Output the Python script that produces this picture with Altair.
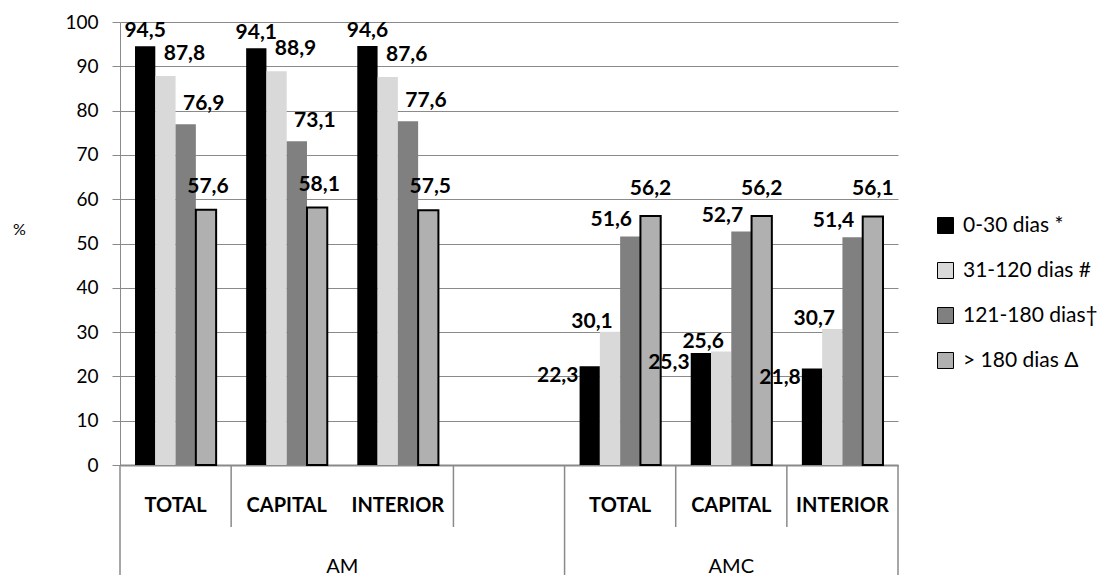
import altair as alt
import pandas as pd

categories = ["AM|TOTAL", "AM|CAPITAL", "AM|INTERIOR", "AM|",
              "AMC|TOTAL", "AMC|CAPITAL", "AMC|INTERIOR"]
series = ["0-30 dias *", "31-120 dias #", "121-180 dias\u2020", "> 180 dias \u0394"]
colors = ["#000000", "#d9d9d9", "#808080", "#b0b0b0"]

v_0_30 = [94.5, 94.1, 94.6, None, 22.3, 25.3, 21.8]
v_31_120 = [87.8, 88.9, 87.6, None, 30.1, 25.6, 30.7]
v_121_180 = [76.9, 73.1, 77.6, None, 51.6, 52.7, 51.4]
v_180 = [57.6, 58.1, 57.5, None, 56.2, 56.2, 56.1]

short_dividers = ["AM|CAPITAL", "AM|", "AMC|CAPITAL", "AMC|INTERIOR"]
long_dividers_left = ["AM|TOTAL", "AMC|TOTAL"]
long_dividers_right = ["AMC|INTERIOR"]

rows = []
for s, vals in zip(series, [v_0_30, v_31_120, v_121_180, v_180]):
    for c, v in zip(categories, vals):
        if v is not None:
            rows.append({"cat": c, "grupo": c.split("|")[0], "serie": s, "v": v})
df = pd.DataFrame(rows)

W, H = 778, 443
FONT = "Lato"

xscale = alt.Scale(domain=categories, paddingInner=0, paddingOuter=0)
color_scale = alt.Scale(domain=series, range=colors)

base = alt.Chart(df)

bars = base.mark_bar(stroke="black").encode(
    x=alt.X("cat:N", scale=xscale, sort=categories,
            axis=alt.Axis(title=None, labelExpr="split(datum.value, '|')[1]",
                          labelAngle=0, ticks=False, domain=True,
                          domainColor="#8a8a8a", domainWidth=2,
                          labelPadding=30, labelFont=FONT, labelFontSize=20,
                          labelFontWeight="bold", labelColor="black", grid=False)),
    xOffset=alt.XOffset("serie:N", sort=series,
                        scale=alt.Scale(domain=series, paddingInner=0, paddingOuter=0.74)),
    y=alt.Y("v:Q", scale=alt.Scale(domain=[0, 100], nice=False),
            axis=alt.Axis(values=list(range(0, 101, 10)), grid=True,
                          gridColor="#8a8a8a", domain=True, domainColor="#8a8a8a",
                          tickColor="#8a8a8a", tickSize=8, labelPadding=14,
                          labelFont=FONT, labelFontSize=19, labelColor="black",
                          title="%", titleAngle=0, titleX=-101, titleY=207,
                          titleFont=FONT, titleFontSize=16, titleFontWeight="normal",
                          titleAlign="center", titleBaseline="middle",
                          titleColor="black")),
    color=alt.Color("serie:N", scale=color_scale, sort=series,
                    legend=alt.Legend(title=None, orient="none", legendX=815,
                                      legendY=193, symbolType="square",
                                      symbolSize=256, symbolStrokeColor="black",
                                      symbolStrokeWidth=1, labelFont=FONT,
                                      labelFontSize=21, labelColor="black",
                                      labelOffset=7, rowPadding=23, padding=0)),
    strokeWidth=alt.condition(alt.datum.serie == series[3], alt.value(2), alt.value(0)),
)

# value labels, offsets per group and series (style)
offsets = {
    "AM": [(0, -15), (19, -22), (18, -20), (2, -23)],
    "AMC": [(-32, 10), (-18, -10), (-19, -16), (0, -27)],
}
label_layers = []
for g, offs in offsets.items():
    for s, (dx, dy) in zip(series, offs):
        t = base.transform_filter(
            (alt.datum.grupo == g) & (alt.datum.serie == s)
        ).transform_calculate(
            lab="replace(format(datum.v, '.1f'), '.', ',')"
        ).mark_text(font=FONT, fontSize=21, fontWeight="bold", color="black",
                    dx=dx, dy=dy, baseline="middle", align="center").encode(
            x=alt.X("cat:N", scale=xscale, sort=categories),
            xOffset=alt.XOffset("serie:N", sort=series,
                                scale=alt.Scale(domain=series, paddingInner=0, paddingOuter=0.74)),
            y=alt.Y("v:Q", scale=alt.Scale(domain=[0, 100], nice=False)),
            text="lab:N",
        )
        label_layers.append(t)

div_short = alt.Chart(pd.DataFrame({"cat": short_dividers})).mark_rule(
    color="#8a8a8a", strokeWidth=1.5).encode(
    x=alt.X("cat:N", scale=xscale, sort=categories, bandPosition=0),
    y=alt.value(H), y2=alt.value(H + 62))
div_long_l = alt.Chart(pd.DataFrame({"cat": long_dividers_left})).mark_rule(
    color="#8a8a8a", strokeWidth=1.5).encode(
    x=alt.X("cat:N", scale=xscale, sort=categories, bandPosition=0),
    y=alt.value(H), y2=alt.value(H + 110))
div_long_r = alt.Chart(pd.DataFrame({"cat": long_dividers_right})).mark_rule(
    color="#8a8a8a", strokeWidth=1.5).encode(
    x=alt.X("cat:N", scale=xscale, sort=categories, bandPosition=1),
    y=alt.value(H), y2=alt.value(H + 110))

grp_am = alt.Chart(pd.DataFrame({"cat": ["AM|CAPITAL"], "g": ["AM"]})).mark_text(
    font=FONT, fontSize=20, color="black", baseline="middle").encode(
    x=alt.X("cat:N", scale=xscale, sort=categories, bandPosition=1),
    y=alt.value(H + 102), text="g:N")
grp_amc = alt.Chart(pd.DataFrame({"cat": ["AMC|CAPITAL"], "g": ["AMC"]})).mark_text(
    font=FONT, fontSize=20, color="black", baseline="middle").encode(
    x=alt.X("cat:N", scale=xscale, sort=categories, bandPosition=0.5),
    y=alt.value(H + 102), text="g:N")

chart = alt.layer(bars, *label_layers, div_short, div_long_l, div_long_r,
                  grp_am, grp_amc).properties(
    width=W, height=H,
    autosize=alt.AutoSizeParams(type="none"),
    padding={"left": 120, "top": 22, "right": 218, "bottom": 113},
    background="white",
).configure_view(stroke=None)

chart.save("out.html", embed_options={"renderer": "svg", "actions": False})
